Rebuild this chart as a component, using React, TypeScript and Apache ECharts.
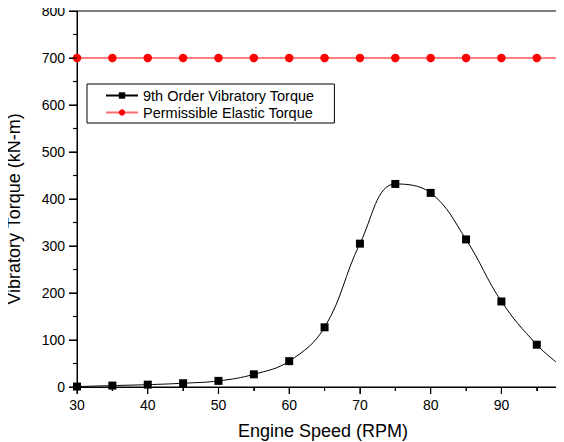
import React, { useEffect, useRef } from "react";
import * as echarts from "echarts";

const rpm = [30, 35, 40, 45, 50, 55, 60, 65, 70, 75, 80, 85, 90, 95];
const vibratoryTorque = [1, 3, 5, 8, 13, 27, 55, 127, 305, 432, 413, 314, 182, 90];
const curveEnd = [98, 50];
const permissibleTorque = 700;
const xMin = 30;
const xMax = 98;
const xMajorTicks = [30, 40, 50, 60, 70, 80, 90];
const xMinorTicks = [35, 45, 55, 65, 75, 85, 95];
const yMajorTicks = [0, 100, 200, 300, 400, 500, 600, 700, 800];
const yMinorTicks = [50, 150, 250, 350, 450, 550, 650, 750];
const xTitle = "Engine Speed (RPM)";
const yTitle = "Vibratory Torque (kN-m)";

function tickSeries(values: number[], horizontal: boolean, len: number) {
  return {
    type: "custom",
    coordinateSystem: "cartesian2d",
    silent: true,
    clip: false,
    z: 10,
    data: values.map((v) => (horizontal ? [v, 0] : [xMin, v])),
    renderItem: (_params: any, api: any) => {
      const p = api.coord([api.value(0), api.value(1)]);
      if (horizontal) {
        return {
          type: "line",
          z2: 100,
          shape: { x1: p[0], y1: p[1], x2: p[0], y2: p[1] + len },
          style: { stroke: "#000", lineWidth: 1.2 },
        };
      }
      return {
        type: "line",
        z2: 100,
        shape: { x1: p[0] - len, y1: p[1], x2: p[0], y2: p[1] },
        style: { stroke: "#000", lineWidth: 1.2 },
      };
    },
  };
}

export default function App() {
  const ref = useRef<HTMLDivElement>(null);
  useEffect(() => {
    if (!ref.current) return;
    const chart = echarts.init(ref.current, undefined, { renderer: "svg" });
    const font = "Liberation Sans, Arial, sans-serif";
    const vib: any[] = rpm.map((x, i) => [x, vibratoryTorque[i]]);
    vib.push({ value: curveEnd, symbol: "none" });
    const perm: any[] = rpm.map((x) => [x, permissibleTorque]);
    perm.push({ value: [xMax, permissibleTorque], symbol: "none" });
    chart.setOption({
      animation: false,
      backgroundColor: "#fff",
      grid: {
        left: 77,
        right: 6,
        top: 11,
        bottom: 55,
        show: true,
        borderColor: "#000",
        borderWidth: 1,
        containLabel: false,
        outerBoundsMode: "none",
      },
      graphic: [
        {
          type: "text",
          x: 323,
          y: 431,
          style: { text: xTitle, font: `18px ${font}`, fill: "#000", align: "center", verticalAlign: "middle" },
        },
        {
          type: "text",
          x: 14,
          y: 209,
          rotation: Math.PI / 2,
          style: { text: yTitle, font: `18px ${font}`, fill: "#000", align: "center", verticalAlign: "middle" },
        },
      ],
      legend: {
        orient: "vertical",
        left: 87,
        top: 84,
        borderColor: "#000",
        borderWidth: 1,
        borderRadius: 0,
        padding: [4, 20, 3, 18],
        itemGap: 2,
        itemWidth: 32,
        itemHeight: 8,
        textStyle: { fontFamily: font, fontSize: 14.5, color: "#000" },
        data: [
          { name: "9th Order Vibratory Torque" },
          { name: "Permissible Elastic Torque", lineStyle: { color: "#ff6a6a" } },
        ],
      },
      xAxis: {
        type: "value",
        min: xMin,
        max: xMax,
        interval: 10,
        axisLine: { show: true, lineStyle: { color: "#000", width: 1 } },
        axisTick: { show: true, inside: false, length: 7, lineStyle: { color: "#000", width: 1 } },
        minorTick: { show: true, splitNumber: 2, length: 4, lineStyle: { color: "#000", width: 1 } },
        axisLabel: { fontFamily: font, fontSize: 14, color: "#000", margin: 11, showMaxLabel: false },
        splitLine: { show: false },
      },
      yAxis: {
        type: "value",
        min: 0,
        max: 800,
        interval: 100,
        axisLine: { show: true, lineStyle: { color: "#000", width: 1 } },
        axisTick: { show: true, inside: false, length: 8, lineStyle: { color: "#000", width: 1 } },
        minorTick: { show: true, splitNumber: 2, length: 4, lineStyle: { color: "#000", width: 1 } },
        axisLabel: { fontFamily: font, fontSize: 14, color: "#000", margin: 12 },
        splitLine: { show: false },
      },
      series: [
        {
          name: "9th Order Vibratory Torque",
          type: "line",
          data: vib,
          smooth: 0.4,
          symbol: "rect",
          symbolSize: 8,
          clip: false,
          itemStyle: { color: "#000" },
          lineStyle: { color: "#000", width: 1 },
        },
        {
          name: "Permissible Elastic Torque",
          type: "line",
          data: perm,
          symbol: "circle",
          symbolSize: 8.5,
          clip: false,
          itemStyle: { color: "#ff0000" },
          lineStyle: { color: "#ff0000", width: 1 },
        },
        tickSeries(xMajorTicks, true, 7),
        tickSeries(xMinorTicks, true, 4),
        tickSeries(yMajorTicks, false, 8),
        tickSeries(yMinorTicks, false, 4),
      ],
    });
    return () => chart.dispose();
  }, []);
  return <div ref={ref} style={{ width: 564, height: 442, marginLeft: -8, marginTop: -8 }} />;
}
